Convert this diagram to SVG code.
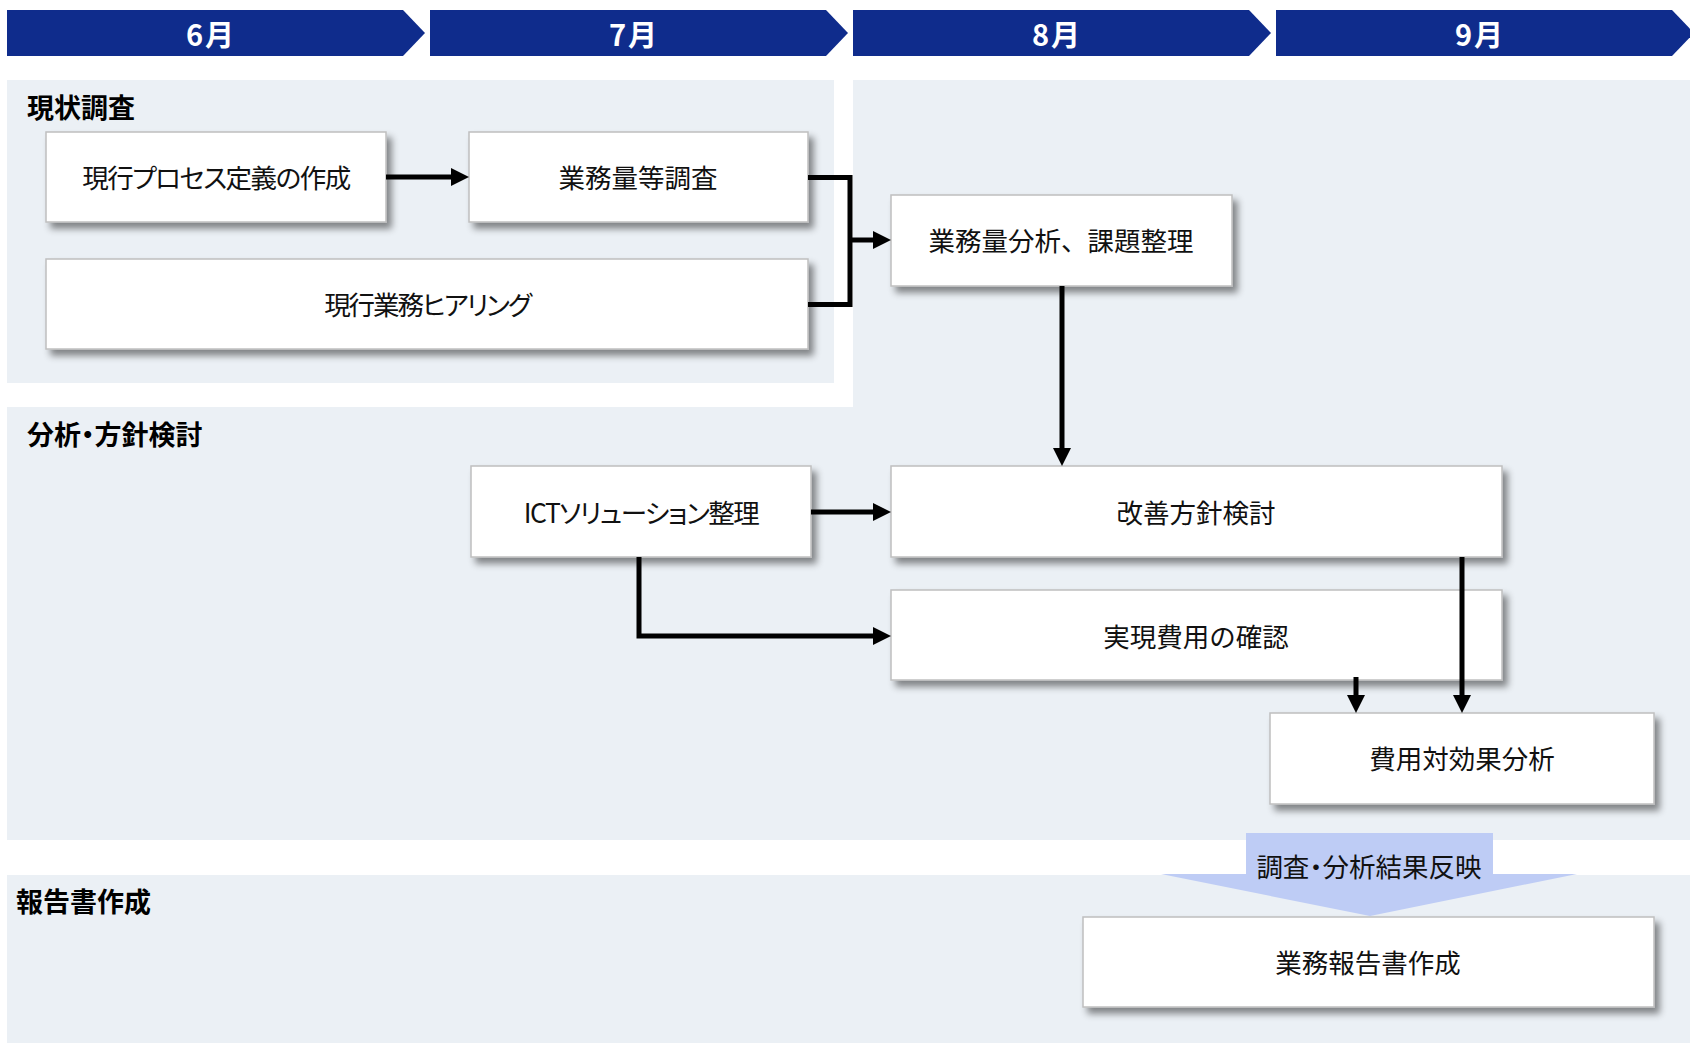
<svg xmlns="http://www.w3.org/2000/svg" width="1690" height="1043" viewBox="0 0 1690 1043">
<style>
  .month { fill: #0F2C8C; }
  .mtext { font-family: "Noto Sans CJK JP", "Noto Sans", sans-serif; font-weight: 700; font-size: 29px; fill: #FFFFFF; text-anchor: middle; dominant-baseline: central; letter-spacing: 2px; }
  .panel { fill: #EBF0F5; }
  .title { font-family: "Noto Sans CJK JP", sans-serif; font-weight: 700; font-size: 27px; fill: #000000; dominant-baseline: central; }
  .box { fill: #FFFFFF; stroke: #BFBFBF; stroke-width: 1.5; filter: url(#shadow); }
  .label { font-family: "Noto Sans CJK JP", sans-serif; font-size: 26.5px; fill: #111111; text-anchor: middle; dominant-baseline: central; }
  .palt { font-feature-settings: "palt"; }
  .tight { letter-spacing: -1.5px; }
  .tighter { letter-spacing: -2px; }
  .conn { fill: none; stroke: #000000; stroke-width: 5; stroke-linejoin: miter; }
  .blk { fill: #BECCF5; }
</style>
<defs>
  <filter id="shadow" x="-10%" y="-20%" width="125%" height="150%">
    <feDropShadow dx="5" dy="6" stdDeviation="3.5" flood-color="#000000" flood-opacity="0.45"/>
  </filter>
  <marker id="arrow" markerUnits="userSpaceOnUse" markerWidth="18" markerHeight="18" refX="0" refY="9" orient="auto">
    <path d="M0,0 L18,9 L0,18 Z" fill="#000000"/>
  </marker>
</defs>

<g id="months">
  <g id="m6"><path class="month" d="M7,10 H403 L425,33 L403,56 H7 Z"/><text class="mtext" x="211" y="33">6月</text></g>
  <g id="m7"><path class="month" d="M430,10 H826 L848,33 L826,56 H430 Z"/><text class="mtext" x="634" y="33">7月</text></g>
  <g id="m8"><path class="month" d="M853,10 H1249 L1271,33 L1249,56 H853 Z"/><text class="mtext" x="1057" y="33">8月</text></g>
  <g id="m9"><path class="month" d="M1276,10 H1672 L1694,33 L1672,56 H1276 Z"/><text class="mtext" x="1480" y="33">9月</text></g>
</g>

<g id="panels">
  <g id="panel-survey"><rect class="panel" x="7" y="80" width="827" height="303"/><text class="title" x="27" y="106">現状調査</text></g>
  <g id="panel-analysis"><path class="panel" d="M853,80 H1690 V840 H7 V407 H853 Z"/><text class="title palt" x="27" y="433">分析・方針検討</text></g>
  <g id="panel-report"><rect class="panel" x="7" y="875" width="1683" height="168"/><text class="title" x="16" y="900">報告書作成</text></g>
</g>

<g id="n1"><rect class="box" x="46" y="132" width="340" height="90"/><text class="label palt tight" x="216" y="176">現行プロセス定義の作成</text></g>
<g id="n2"><rect class="box" x="469" y="132" width="339" height="90"/><text class="label" x="638" y="176">業務量等調査</text></g>
<g id="n3"><rect class="box" x="46" y="259" width="762" height="90"/><text class="label palt tighter" x="427" y="303">現行業務ヒアリング</text></g>
<g id="n4"><rect class="box" x="891" y="195" width="341" height="91"/><text class="label" x="1061" y="239">業務量分析、課題整理</text></g>
<g id="n5"><rect class="box" x="471" y="466" width="340" height="91"/><text class="label palt tight" x="641" y="511">ICTソリューション整理</text></g>
<g id="n6"><rect class="box" x="891" y="466" width="611" height="91"/><text class="label" x="1196" y="511">改善方針検討</text></g>
<g id="n7"><rect class="box" x="891" y="590" width="611" height="90"/><text class="label" x="1196" y="635">実現費用の確認</text></g>
<g id="n8"><rect class="box" x="1270" y="713" width="384" height="91"/><text class="label" x="1462" y="757">費用対効果分析</text></g>
<g id="n9"><rect class="box" x="1083" y="917" width="571" height="90"/><text class="label" x="1368" y="961">業務報告書作成</text></g>

<g id="connectors">
  <path class="conn" d="M386,177 H451" marker-end="url(#arrow)"/>
  <path class="conn" d="M808,177.5 H850 V304.5 H808"/>
  <path class="conn" d="M850,240 H873" marker-end="url(#arrow)"/>
  <path class="conn" d="M1062,286 V448" marker-end="url(#arrow)"/>
  <path class="conn" d="M811,512 H873" marker-end="url(#arrow)"/>
  <path class="conn" d="M639,557 V636 H873" marker-end="url(#arrow)"/>
  <path class="conn" d="M1462,557 V695" marker-end="url(#arrow)"/>
  <path class="conn" d="M1356,677 V695" marker-end="url(#arrow)"/>
  <g id="reflect">
    <path class="blk" d="M1246,833 H1493 V874 H1577 L1370,916 L1161,874 H1246 Z"/>
    <text class="label palt" x="1369" y="865">調査・分析結果反映</text>
  </g>
</g>
</svg>
